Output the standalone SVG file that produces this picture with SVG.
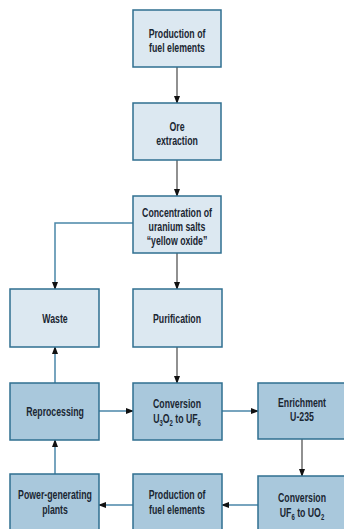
<svg xmlns="http://www.w3.org/2000/svg" width="344" height="529" viewBox="0 0 344 529">
<style>
.lt{fill:#dce8f1;stroke:#2f6f90;stroke-width:1.5}
.dk{fill:#a9c8dc;stroke:#2f6f90;stroke-width:1.5}
text{font-family:"Liberation Sans",Arial,sans-serif;font-weight:bold;font-size:12.5px;fill:#1a2632;text-anchor:middle}
.c{fill:none;stroke:#555;stroke-width:1.3}
.cb{fill:none;stroke:#4a86a8;stroke-width:1.5}
.s{font-size:8.5px}
</style>
<defs>
<marker id="ah" markerWidth="8" markerHeight="8" refX="7" refY="4" orient="auto" markerUnits="userSpaceOnUse">
<path d="M0,1 L8,4 L0,7 Z" fill="#111"/>
</marker>
</defs>
<g id="connectors">
<path class="c" d="M177,67 V103" marker-end="url(#ah)"/>
<path class="c" d="M177,160 V196" marker-end="url(#ah)"/>
<path class="c" d="M177,253 V289" marker-end="url(#ah)"/>
<path class="cb" d="M133,223 H55 V289" marker-end="url(#ah)"/>
<path class="c" d="M177,347 V383" marker-end="url(#ah)"/>
<path class="cb" d="M55,383 V347" marker-end="url(#ah)"/>
<path class="cb" d="M99,411 H133" marker-end="url(#ah)"/>
<path class="cb" d="M222,411 H258" marker-end="url(#ah)"/>
<path class="c" d="M302,439 V476" marker-end="url(#ah)"/>
<path class="cb" d="M258,505 H222" marker-end="url(#ah)"/>
<path class="cb" d="M133,505 H99" marker-end="url(#ah)"/>
<path class="cb" d="M55,474 V440" marker-end="url(#ah)"/>
</g>
<g id="n1"><rect class="lt" x="133" y="10" width="88" height="57"/><text transform="translate(177,38) scale(0.7,1)">Production of</text><text transform="translate(177,52) scale(0.7,1)">fuel elements</text></g>
<g id="n2"><rect class="lt" x="133" y="103" width="88" height="57"/><text transform="translate(177,131) scale(0.7,1)">Ore</text><text transform="translate(177,145) scale(0.7,1)">extraction</text></g>
<g id="n3"><rect class="lt" x="133" y="196" width="88" height="57"/><text transform="translate(177,217) scale(0.7,1)">Concentration of</text><text transform="translate(177,231) scale(0.7,1)">uranium salts</text><text transform="translate(177,245) scale(0.7,1)">“yellow oxide”</text></g>
<g id="n4"><rect class="lt" x="10" y="289" width="89" height="58"/><text transform="translate(55,323) scale(0.7,1)">Waste</text></g>
<g id="n5"><rect class="lt" x="133" y="289" width="89" height="58"/><text transform="translate(177,323) scale(0.7,1)">Purification</text></g>
<g id="n6"><rect class="dk" x="10" y="383" width="89" height="57"/><text transform="translate(55,416) scale(0.7,1)">Reprocessing</text></g>
<g id="n7"><rect class="dk" x="133" y="383" width="89" height="57"/><text transform="translate(177,408) scale(0.7,1)">Conversion</text><text transform="translate(177,423) scale(0.7,1)">U<tspan class="s" dy="3">3</tspan><tspan dy="-3">O</tspan><tspan class="s" dy="3">2</tspan><tspan dy="-3">  to UF</tspan><tspan class="s" dy="3">6</tspan></text></g>
<g id="n8"><rect class="dk" x="258" y="383" width="89" height="56"/><text transform="translate(302,407) scale(0.7,1)">Enrichment</text><text transform="translate(302,421) scale(0.7,1)">U-235</text></g>
<g id="n9"><rect class="dk" x="258" y="476" width="89" height="60"/><text transform="translate(302,502) scale(0.7,1)">Conversion</text><text transform="translate(302,517) scale(0.7,1)">UF<tspan class="s" dy="3">6</tspan><tspan dy="-3">  to UO</tspan><tspan class="s" dy="3">2</tspan></text></g>
<g id="n10"><rect class="dk" x="133" y="474" width="89" height="62"/><text transform="translate(177,499) scale(0.7,1)">Production of</text><text transform="translate(177,514) scale(0.7,1)">fuel elements</text></g>
<g id="n11"><rect class="dk" x="10" y="474" width="89" height="62"/><text transform="translate(55,499) scale(0.7,1)">Power-generating</text><text transform="translate(55,514) scale(0.7,1)">plants</text></g>
</svg>
